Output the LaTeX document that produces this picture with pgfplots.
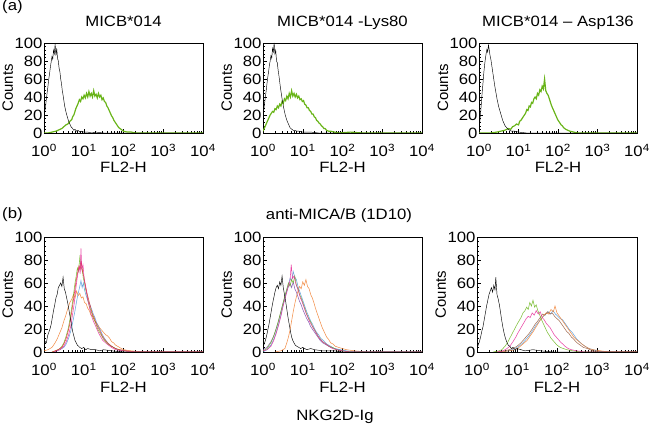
\documentclass[border=0pt]{standalone}
\usepackage{fontspec}
\setmainfont[FakeStretch=1.12]{Liberation Sans}
\newfontfamily\plainfont{Liberation Sans}
\usepackage{pgfplots}
\pgfplotsset{compat=1.18}
\definecolor{cgreen}{RGB}{105,180,25}
\definecolor{cred}{RGB}{220,40,40}
\definecolor{cmag}{RGB}{230,40,150}
\definecolor{cblue}{RGB}{80,150,215}
\definecolor{corange}{RGB}{240,125,45}
\definecolor{cbrown}{RGB}{150,90,60}
\definecolor{cpurple}{RGB}{120,70,170}
\newcommand\fs{\fontsize{15}{18}\selectfont}
\pgfplotsset{
  hist/.style={
    scale only axis, width=159bp,
    xmin=0, xmax=4, ymin=0, ymax=100,
    xtick={0,1,2,3,4},
    xticklabels={10\textsuperscript{0},10\textsuperscript{1},10\textsuperscript{2},10\textsuperscript{3},10\textsuperscript{4}},
    minor xtick={0.30103,0.47712,0.60206,0.69897,0.77815,0.84510,0.90309,0.95424,
      1.30103,1.47712,1.60206,1.69897,1.77815,1.84510,1.90309,1.95424,
      2.30103,2.47712,2.60206,2.69897,2.77815,2.84510,2.90309,2.95424,
      3.30103,3.47712,3.60206,3.69897,3.77815,3.84510,3.90309,3.95424},
    ytick={0,20,40,60,80,100},
    minor y tick num=4,
    tick pos=left, tick align=inside,
    major tick length=4bp, minor tick length=2bp,
    axis line style={line width=0.7pt},
    every tick/.style={black, line width=0.5pt},
    /pgf/number format/assume math mode=true,
    tick label style={font=\fs},
    xticklabel style={anchor=base, yshift=-24bp},
    yticklabel style={xshift=2bp},
    xlabel={FL2-H}, ylabel={Counts},
    label style={font=\fs},
    xlabel style={at={(axis description cs:0.5,0)}, anchor=base, yshift=-40bp},
    ylabel style={at={(axis description cs:-0.195,0.5)}, anchor=base, font=\plainfont\fs},
    title style={font=\fs, at={(axis description cs:0.5,1)}, anchor=base, yshift=11bp},
    clip=true,
  },
  blk/.style={black, line width=0.45pt},
  grn/.style={cgreen, line width=1.2pt},
  col/.style={#1, line width=0.55pt, opacity=0.85},
}
\begin{document}
\begin{tikzpicture}
\useasboundingbox (0,0) rectangle (650bp,424bp);
\node[anchor=base west, font=\fs, inner sep=0pt] at (2bp,413bp) {(a)};
\node[anchor=base west, font=\fs, inner sep=0pt] at (2bp,205bp) {(b)};
\node[anchor=base, font=\fs, inner sep=0pt] at (339bp,204bp) {anti-MICA/B (1D10)};
\node[anchor=base, font=\fs, inner sep=0pt] at (335bp,3.5bp) {NKG2D-Ig};

% ---------------- (a) 1
\begin{axis}[hist, at={(44bp,291bp)}, anchor=south west, height=90bp, title={MICB*014}]
\addplot[grn] coordinates {(0,0)(0.1,0)(0.2,1)(0.3,2)(0.35,3)(0.4,4)(0.45,5)(0.5,7)(0.55,9)(0.6,10)(0.65,13)(0.7,15)(0.72,18)(0.75,20)(0.78,24)(0.8,27)(0.83,30)(0.86,33)(0.89,37)(0.92,35)(0.95,40)(0.98,38)(1.01,42)(1.04,39)(1.07,44)(1.10,40)(1.13,46)(1.16,41)(1.19,44)(1.22,40)(1.25,47)(1.28,41)(1.31,43)(1.34,39)(1.37,44)(1.40,40)(1.43,42)(1.46,37)(1.49,39)(1.52,35)(1.55,34)(1.58,30)(1.61,28)(1.64,25)(1.67,22)(1.70,19)(1.73,17)(1.76,14)(1.79,12)(1.82,10)(1.85,8)(1.88,6)(1.91,5)(1.94,4)(1.97,3)(2.0,2)(2.1,1)(2.2,1)(2.3,0)(4,0)};
\addplot[blk] coordinates {(0,18)(0.02,24)(0.04,30)(0.06,38)(0.08,45)(0.10,52)(0.12,60)(0.14,66)(0.16,73)(0.18,79)(0.20,85)(0.22,82)(0.24,92)(0.26,88)(0.28,99)(0.30,86)(0.32,94)(0.34,83)(0.36,80)(0.38,72)(0.40,68)(0.42,60)(0.44,55)(0.46,47)(0.48,42)(0.50,36)(0.52,30)(0.54,26)(0.56,22)(0.58,19)(0.60,16)(0.62,13)(0.64,11)(0.66,9)(0.68,7)(0.70,6)(0.72,5)(0.75,3)(0.78,4)(0.82,2)(0.86,3)(0.90,1)(0.95,2)(1.0,1)(1.1,1)(1.2,0)(1.3,1)(1.5,0)(4,0)};
\end{axis}

% ---------------- (a) 2
\begin{axis}[hist, at={(263bp,291bp)}, anchor=south west, height=90bp, title={MICB*014 -Lys80}]
\addplot[grn] coordinates {(0,2)(0.03,5)(0.06,8)(0.09,11)(0.12,14)(0.15,17)(0.18,20)(0.21,22)(0.24,24)(0.27,23)(0.30,27)(0.33,26)(0.36,30)(0.39,28)(0.42,32)(0.45,30)(0.48,35)(0.51,33)(0.54,38)(0.57,36)(0.60,41)(0.63,38)(0.66,44)(0.69,40)(0.72,47)(0.75,41)(0.78,44)(0.81,40)(0.84,43)(0.87,39)(0.90,41)(0.93,37)(0.96,38)(0.99,35)(1.02,36)(1.05,32)(1.08,31)(1.11,28)(1.14,28)(1.17,25)(1.20,24)(1.23,21)(1.26,21)(1.29,18)(1.32,17)(1.35,14)(1.38,13)(1.41,11)(1.44,10)(1.47,8)(1.50,7)(1.53,5)(1.56,5)(1.60,3)(1.65,2)(1.7,2)(1.8,1)(1.9,0)(2.2,1)(2.5,0)(4,0)};
\addplot[blk] coordinates {(0,20)(0.02,26)(0.04,33)(0.06,40)(0.08,47)(0.10,55)(0.12,62)(0.14,68)(0.16,75)(0.18,80)(0.20,86)(0.22,83)(0.24,94)(0.26,90)(0.28,100)(0.30,88)(0.32,92)(0.34,80)(0.36,78)(0.38,70)(0.40,64)(0.42,57)(0.44,50)(0.46,44)(0.48,38)(0.50,33)(0.52,28)(0.54,24)(0.56,20)(0.58,17)(0.60,14)(0.62,12)(0.64,10)(0.66,8)(0.68,6)(0.70,5)(0.73,4)(0.76,3)(0.80,3)(0.85,2)(0.9,2)(1.0,1)(1.2,1)(1.4,0)(4,0)};
\end{axis}

% ---------------- (a) 3
\begin{axis}[hist, at={(479bp,291bp)}, anchor=south west, width=158bp, height=90bp, title={MICB*014 – Asp136}]
\addplot[grn] coordinates {(0,0)(0.3,0)(0.45,1)(0.55,2)(0.65,3)(0.75,5)(0.8,4)(0.85,7)(0.9,8)(0.95,10)(1.0,9)(1.03,13)(1.06,14)(1.09,16)(1.12,18)(1.15,20)(1.18,22)(1.21,26)(1.24,25)(1.27,30)(1.30,29)(1.33,34)(1.36,33)(1.39,38)(1.42,40)(1.45,38)(1.48,44)(1.51,42)(1.54,48)(1.57,46)(1.60,52)(1.63,49)(1.66,60)(1.69,47)(1.72,44)(1.75,42)(1.78,38)(1.81,34)(1.84,30)(1.87,27)(1.90,24)(1.93,21)(1.96,18)(1.99,15)(2.02,13)(2.05,11)(2.08,9)(2.11,8)(2.14,6)(2.17,5)(2.20,4)(2.25,3)(2.30,2)(2.4,1)(2.5,0)(4,0)};
\addplot[blk] coordinates {(0,5)(0.02,12)(0.04,22)(0.06,33)(0.08,45)(0.10,55)(0.12,66)(0.14,75)(0.16,82)(0.18,88)(0.20,93)(0.22,90)(0.24,98)(0.26,92)(0.28,86)(0.30,82)(0.32,76)(0.34,70)(0.36,64)(0.38,58)(0.40,52)(0.42,47)(0.44,42)(0.46,37)(0.48,33)(0.50,29)(0.52,26)(0.54,23)(0.56,20)(0.58,17)(0.60,14)(0.63,11)(0.66,8)(0.70,6)(0.74,4)(0.78,3)(0.82,2)(0.9,2)(1.0,1)(1.2,0)(4,0)};
\end{axis}

% ---------------- (b) 1
\begin{axis}[hist, at={(44bp,72bp)}, anchor=south west, height=115bp]
\addplot[col=corange] coordinates {(0,1)(0.1,2)(0.2,4)(0.28,8)(0.34,12)(0.40,17)(0.45,21)(0.50,27)(0.55,32)(0.60,38)(0.65,43)(0.70,46)(0.74,50)(0.78,47)(0.82,53)(0.86,49)(0.90,51)(0.94,47)(0.98,48)(1.02,43)(1.06,42)(1.10,38)(1.14,36)(1.18,32)(1.22,31)(1.26,28)(1.30,26)(1.35,24)(1.40,21)(1.45,19)(1.50,17)(1.55,15)(1.60,14)(1.65,12)(1.70,9)(1.75,8)(1.80,6)(1.90,4)(2.0,2)(2.2,1)(2.5,0)(4,0)};
\addplot[col=cblue] coordinates {(0.25,0)(0.4,2)(0.5,4)(0.56,7)(0.62,12)(0.68,19)(0.73,27)(0.78,36)(0.82,44)(0.86,51)(0.90,57)(0.93,62)(0.96,56)(0.99,60)(1.02,54)(1.05,50)(1.08,47)(1.11,44)(1.14,42)(1.17,40)(1.20,37)(1.24,33)(1.28,30)(1.32,26)(1.37,22)(1.42,19)(1.47,15)(1.52,12)(1.58,9)(1.65,6)(1.75,4)(1.85,2)(2.0,1)(2.2,0)(4,0)};
\addplot[col=cgreen] coordinates {(0.2,0)(0.3,1)(0.4,3)(0.45,5)(0.5,8)(0.55,13)(0.6,19)(0.63,24)(0.66,30)(0.69,37)(0.72,44)(0.75,52)(0.78,60)(0.81,66)(0.84,73)(0.87,70)(0.90,82)(0.93,74)(0.96,72)(0.99,64)(1.02,60)(1.05,54)(1.08,50)(1.11,45)(1.14,40)(1.17,37)(1.20,34)(1.25,29)(1.30,25)(1.35,20)(1.40,17)(1.45,14)(1.50,11)(1.55,9)(1.60,7)(1.70,5)(1.80,3)(1.9,2)(2.0,1)(2.2,0)(4,0)};
\addplot[col=cred] coordinates {(0.2,0)(0.35,2)(0.45,4)(0.5,7)(0.55,11)(0.6,17)(0.64,23)(0.68,31)(0.72,40)(0.76,50)(0.80,60)(0.84,68)(0.88,75)(0.91,72)(0.94,78)(0.97,70)(1.00,66)(1.03,60)(1.06,55)(1.09,50)(1.12,46)(1.15,42)(1.18,38)(1.22,33)(1.26,30)(1.30,26)(1.35,22)(1.40,19)(1.45,15)(1.50,12)(1.55,10)(1.6,8)(1.7,5)(1.8,3)(1.9,2)(2.1,1)(2.3,0)(4,0)};
\addplot[col=cmag] coordinates {(0.25,0)(0.4,2)(0.5,5)(0.56,9)(0.62,15)(0.67,22)(0.72,33)(0.76,42)(0.80,55)(0.83,63)(0.86,70)(0.89,74)(0.91,68)(0.93,90)(0.95,72)(0.98,76)(1.01,64)(1.04,58)(1.07,52)(1.10,45)(1.13,41)(1.16,36)(1.20,31)(1.24,27)(1.28,24)(1.33,20)(1.38,16)(1.43,13)(1.48,10)(1.55,8)(1.62,6)(1.7,4)(1.8,2)(2.0,1)(2.2,0)(4,0)};
\addplot[blk] coordinates {(0,6)(0.03,9)(0.06,8)(0.09,14)(0.12,17)(0.15,20)(0.18,24)(0.21,30)(0.24,36)(0.27,41)(0.30,47)(0.33,50)(0.36,56)(0.39,58)(0.42,60)(0.45,57)(0.48,65)(0.51,55)(0.54,52)(0.57,47)(0.60,42)(0.63,36)(0.66,30)(0.69,24)(0.72,18)(0.75,14)(0.78,10)(0.81,8)(0.84,6)(0.87,5)(0.90,4)(0.95,3)(1.0,4)(1.05,2)(1.1,3)(1.2,2)(1.3,2)(1.4,1)(1.5,2)(1.7,1)(2.0,0)(4,0)};
\end{axis}

% ---------------- (b) 2
\begin{axis}[hist, at={(263bp,72bp)}, anchor=south west, height=115bp]
\addplot[col=corange] coordinates {(0.3,0)(0.45,1)(0.55,3)(0.60,8)(0.64,13)(0.68,19)(0.72,27)(0.76,35)(0.80,42)(0.84,48)(0.88,53)(0.92,57)(0.96,55)(1.00,61)(1.04,58)(1.08,63)(1.12,57)(1.16,55)(1.20,50)(1.24,47)(1.28,43)(1.32,38)(1.36,34)(1.40,30)(1.44,26)(1.48,22)(1.52,19)(1.56,16)(1.60,13)(1.65,11)(1.70,8)(1.76,7)(1.82,5)(1.9,4)(2.0,3)(2.1,2)(2.3,1)(2.6,0)(4,0)};
\addplot[col=cpurple] coordinates {(0,2)(0.1,4)(0.2,9)(0.27,14)(0.33,20)(0.39,27)(0.45,35)(0.50,42)(0.55,48)(0.60,53)(0.64,57)(0.68,60)(0.72,56)(0.76,61)(0.80,55)(0.84,52)(0.88,48)(0.92,44)(0.96,41)(1.00,37)(1.05,33)(1.10,29)(1.15,26)(1.20,22)(1.26,19)(1.32,16)(1.38,13)(1.44,10)(1.50,8)(1.6,6)(1.7,4)(1.8,3)(2.0,1)(2.2,0)(4,0)};
\addplot[col=cblue] coordinates {(0,0)(0.1,2)(0.2,6)(0.27,11)(0.33,17)(0.39,24)(0.45,32)(0.50,40)(0.55,47)(0.60,54)(0.64,59)(0.68,64)(0.72,62)(0.76,70)(0.80,65)(0.84,63)(0.88,57)(0.92,53)(0.96,49)(1.00,45)(1.05,40)(1.10,35)(1.15,31)(1.20,27)(1.25,24)(1.30,20)(1.35,17)(1.40,15)(1.45,12)(1.52,10)(1.60,7)(1.70,5)(1.80,3)(1.95,2)(2.1,1)(2.3,0)(4,0)};
\addplot[col=cgreen] coordinates {(0,1)(0.1,3)(0.2,8)(0.26,13)(0.32,19)(0.38,26)(0.44,34)(0.50,42)(0.55,49)(0.60,55)(0.64,60)(0.68,57)(0.72,63)(0.76,60)(0.80,66)(0.84,58)(0.88,55)(0.92,50)(0.96,47)(1.00,43)(1.05,38)(1.10,33)(1.15,29)(1.20,26)(1.25,22)(1.30,19)(1.35,16)(1.40,13)(1.45,11)(1.50,9)(1.58,7)(1.66,5)(1.75,4)(1.85,2)(2.0,1)(2.2,0)(4,0)};
\addplot[col=cmag] coordinates {(0,1)(0.1,2)(0.2,5)(0.27,10)(0.33,16)(0.39,23)(0.45,31)(0.50,39)(0.55,46)(0.60,52)(0.64,58)(0.68,62)(0.71,76)(0.74,64)(0.78,66)(0.82,60)(0.86,56)(0.90,52)(0.94,47)(0.98,44)(1.03,39)(1.08,34)(1.13,30)(1.18,26)(1.23,23)(1.28,20)(1.33,17)(1.38,14)(1.44,11)(1.50,9)(1.58,7)(1.66,5)(1.75,3)(1.85,2)(2.0,1)(2.2,0)(4,0)};
\addplot[blk] coordinates {(0,4)(0.03,7)(0.06,10)(0.09,14)(0.12,19)(0.15,24)(0.18,30)(0.21,36)(0.24,42)(0.27,47)(0.30,52)(0.33,56)(0.36,58)(0.39,55)(0.42,61)(0.45,58)(0.48,66)(0.51,56)(0.54,50)(0.57,44)(0.60,37)(0.63,30)(0.66,24)(0.69,18)(0.72,13)(0.75,10)(0.78,8)(0.81,6)(0.85,5)(0.9,4)(0.95,3)(1.0,4)(1.1,2)(1.2,3)(1.3,2)(1.5,1)(1.8,1)(2.0,0)(4,0)};
\end{axis}

% ---------------- (b) 3
\begin{axis}[hist, at={(477bp,72bp)}, anchor=south west, width=160bp, height=115bp]
\addplot[col=cblue] coordinates {(0.6,0)(0.8,1)(0.95,3)(1.05,5)(1.15,8)(1.25,12)(1.32,15)(1.40,19)(1.47,23)(1.54,26)(1.60,29)(1.66,31)(1.72,33)(1.78,35)(1.84,33)(1.90,36)(1.96,33)(2.02,31)(2.08,29)(2.14,28)(2.20,25)(2.26,22)(2.32,19)(2.38,17)(2.44,14)(2.50,11)(2.56,9)(2.62,7)(2.70,5)(2.80,3)(2.9,2)(3.0,1)(3.2,0)(4,0)};
\addplot[col=cbrown] coordinates {(0.5,0)(0.7,1)(0.9,3)(1.0,5)(1.1,8)(1.2,12)(1.3,16)(1.38,20)(1.45,24)(1.52,27)(1.58,30)(1.64,33)(1.70,32)(1.76,35)(1.82,33)(1.88,34)(1.94,31)(2.00,29)(2.06,27)(2.12,24)(2.18,21)(2.24,18)(2.30,16)(2.36,13)(2.42,11)(2.50,8)(2.58,6)(2.66,4)(2.76,3)(2.9,1)(3.1,0)(4,0)};
\addplot[col=corange] coordinates {(0.6,0)(0.8,1)(0.95,2)(1.05,4)(1.15,7)(1.25,10)(1.33,14)(1.41,18)(1.48,22)(1.55,26)(1.61,29)(1.67,32)(1.73,34)(1.79,33)(1.85,37)(1.91,35)(1.95,40)(2.00,34)(2.06,31)(2.12,28)(2.18,25)(2.24,22)(2.30,19)(2.36,16)(2.42,13)(2.48,11)(2.55,9)(2.62,7)(2.70,5)(2.8,3)(2.9,2)(3.1,1)(3.3,0)(4,0)};
\addplot[col=cgreen] coordinates {(0.4,0)(0.55,1)(0.62,2)(0.70,5)(0.76,8)(0.82,12)(0.88,16)(0.94,20)(1.00,24)(1.05,27)(1.10,30)(1.15,34)(1.20,36)(1.24,39)(1.28,37)(1.32,43)(1.36,40)(1.40,45)(1.44,39)(1.48,41)(1.52,36)(1.56,33)(1.60,29)(1.64,26)(1.68,23)(1.72,20)(1.76,17)(1.80,15)(1.85,12)(1.90,10)(1.95,8)(2.0,6)(2.08,4)(2.16,3)(2.25,2)(2.4,1)(2.6,0)(4,0)};
\addplot[col=cmag] coordinates {(0.5,0)(0.65,1)(0.75,3)(0.82,5)(0.90,9)(0.97,13)(1.03,17)(1.08,20)(1.13,23)(1.18,26)(1.23,29)(1.28,31)(1.33,30)(1.38,34)(1.43,32)(1.48,36)(1.53,33)(1.58,35)(1.63,30)(1.68,28)(1.73,25)(1.78,23)(1.83,21)(1.88,18)(1.93,15)(1.98,13)(2.03,11)(2.08,9)(2.14,7)(2.20,5)(2.28,3)(2.36,2)(2.5,1)(2.7,0)(4,0)};
\addplot[blk] coordinates {(0,3)(0.03,6)(0.06,9)(0.09,13)(0.12,18)(0.15,22)(0.18,28)(0.21,34)(0.24,40)(0.27,45)(0.30,50)(0.33,53)(0.36,56)(0.39,52)(0.42,58)(0.45,54)(0.47,65)(0.50,50)(0.53,46)(0.56,41)(0.59,34)(0.62,27)(0.65,21)(0.68,16)(0.71,12)(0.74,9)(0.78,6)(0.82,5)(0.86,3)(0.9,4)(0.95,2)(1.0,3)(1.1,2)(1.2,1)(1.4,2)(1.6,1)(1.9,0)(4,0)};
\end{axis}
\end{tikzpicture}
\end{document}
